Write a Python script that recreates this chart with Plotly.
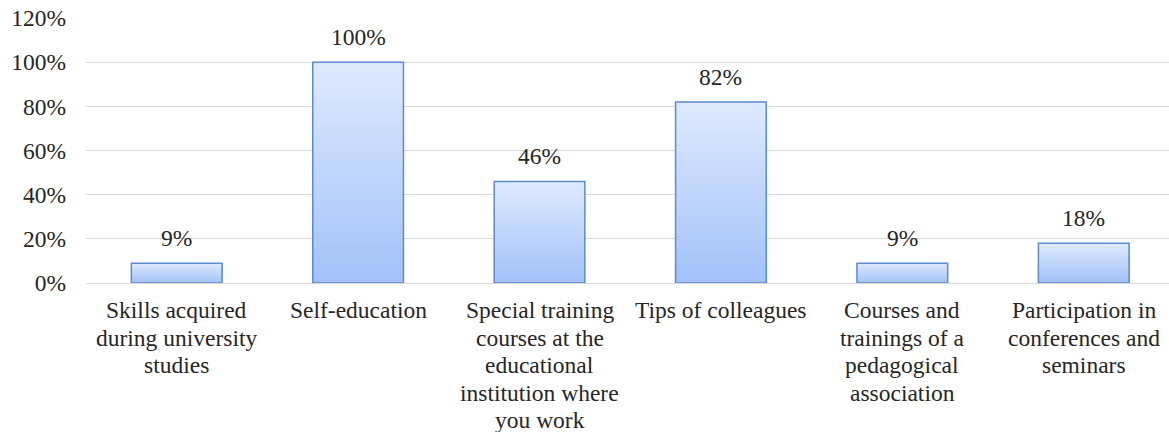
import plotly.graph_objects as go

# Survey responses: sources of professional skills
categories = [
    "Skills acquired<br>during university<br>studies",
    "Self-education",
    "Special training<br>courses at the<br>educational<br>institution where<br>you work",
    "Tips of colleagues",
    "Courses and<br>trainings of a<br>pedagogical<br>association",
    "Participation in<br>conferences and<br>seminars",
]
shares = [0.09, 1.00, 0.46, 0.82, 0.09, 0.18]
value_labels = ["9%", "100%", "46%", "82%", "9%", "18%"]
y_ticks = [0, 0.2, 0.4, 0.6, 0.8, 1.0, 1.2]
y_tick_labels = ["0%", "20%", "40%", "60%", "80%", "100%", "120%"]

FONT = "Liberation Serif"
FONT_SIZE = 23.5
TEXT_COLOR = "#262626"
BOTTOM_RGB = (163, 194, 249)
TOP_RGB = (222, 233, 253)
N_STEPS = 40
BAR_WIDTH = 0.5
LABEL_FIRST_LINE = 27    # px below the baseline to first line centre
LABEL_LINE_STEP = 27.5   # px between category label lines

xs = list(range(len(categories)))
fig = go.Figure()

# Vertical gradient fill: each step covers from its start height to the bar top,
# lighter steps drawn over darker ones.
for i in range(N_STEPS):
    t = i / (N_STEPS - 1)
    rgb = tuple(round(b + (tp - b) * t) for b, tp in zip(BOTTOM_RGB, TOP_RGB))
    bases = [v * i / N_STEPS for v in shares]
    fig.add_trace(go.Bar(
        x=xs,
        y=[v - b for v, b in zip(shares, bases)],
        base=bases,
        width=BAR_WIDTH,
        marker=dict(color="rgb(%d,%d,%d)" % rgb, line=dict(width=0)),
        hoverinfo="skip",
        showlegend=False,
    ))

# Bar outlines
fig.add_trace(go.Bar(
    x=xs,
    y=shares,
    width=BAR_WIDTH,
    marker=dict(color="rgba(0,0,0,0)", line=dict(color="#5B8BD0", width=1.5)),
    showlegend=False,
))

# Value labels above the bars
for x, v, lab in zip(xs, shares, value_labels):
    fig.add_annotation(
        x=x, y=v, text=lab, showarrow=False, yshift=25, yanchor="middle",
        font=dict(family=FONT, size=FONT_SIZE, color=TEXT_COLOR),
    )

# Category labels under the axis, one line at a time for tighter leading
for x, cat in zip(xs, categories):
    for k, line in enumerate(cat.split("<br>")):
        fig.add_annotation(
            x=x, y=0, text=line, showarrow=False, yanchor="middle",
            yshift=-(LABEL_FIRST_LINE + LABEL_LINE_STEP * k),
            font=dict(family=FONT, size=FONT_SIZE, color=TEXT_COLOR),
        )

fig.update_layout(
    width=1169,
    height=432,
    margin=dict(l=86, r=0, t=18, b=149),
    barmode="overlay",
    plot_bgcolor="white",
    paper_bgcolor="white",
    font=dict(family=FONT, size=FONT_SIZE, color=TEXT_COLOR),
    xaxis=dict(
        range=[-0.5, 5.47],
        tickvals=xs,
        showticklabels=False,
        showgrid=False,
        zeroline=False,
        showline=False,
        ticks="",
    ),
    yaxis=dict(
        range=[0, 1.2],
        tickvals=y_ticks,
        ticktext=y_tick_labels,
        showgrid=True,
        gridcolor="#D9D9D9",
        gridwidth=1,
        zeroline=True,
        zerolinecolor="#D9D9D9",
        zerolinewidth=1,
        showline=False,
        ticks="",
        ticklabelstandoff=19,
        tickfont=dict(family=FONT, size=FONT_SIZE, color=TEXT_COLOR),
    ),
    bargap=0.5,
)

fig.write_html("out.html")
